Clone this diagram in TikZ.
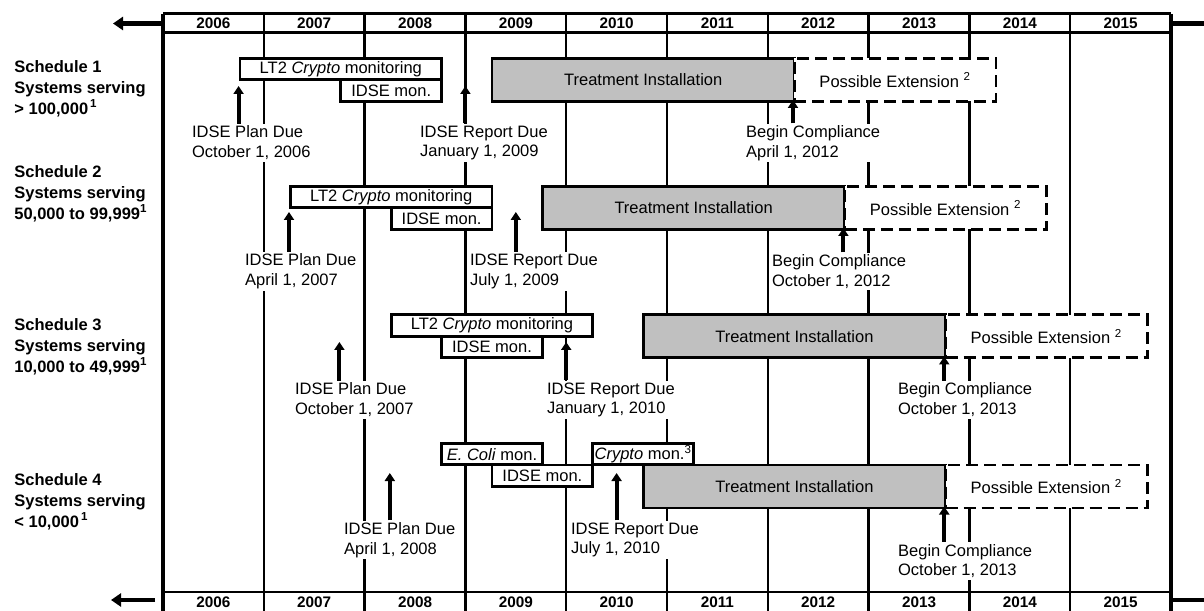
\documentclass[tikz,border=0pt]{standalone}
\usepackage{fontspec}
\setmainfont{Liberation Sans}
\usetikzlibrary{arrows.meta}
\definecolor{treatgray}{RGB}{192,192,192}
\definecolor{lineblack}{RGB}{0,0,0}

\tikzset{
  monbox/.style={draw=lineblack, fill=white, line width=1.6pt, inner sep=0.5pt, anchor=north west, minimum height=0.43cm},
  treatbox/.style={monbox, fill=treatgray, minimum height=0.86cm, minimum width=6.048cm},
  extbox/.style={monbox, dash pattern=on 0.24cm off 0.12cm, minimum height=0.86cm, minimum width=4.032cm},
  duetext/.style={fill=white, anchor=west, align=left, inner sep=1pt},
  duearrow/.style={-{Triangle[width=0.2cm,length=0.16cm]}, line width=2.3pt},
  headarrow/.style={-{Triangle[width=0.26cm,length=0.2cm]}, line width=2.3pt},
  yearlab/.style={inner sep=0pt, font=\fontsize{8.7}{10}\selectfont\bfseries},
  schedlab/.style={anchor=west, align=left, inner sep=0pt, font=\fontsize{9.4}{11.9}\selectfont\bfseries},
  gridline/.style={draw=lineblack, line width=1.4pt}
}

\begin{document}
\begin{tikzpicture}[font=\fontsize{9.4}{11.3}\selectfont]
\useasboundingbox (0,0) rectangle (24.08,-12.22);

% year grid
\draw[gridline] (5.276,-0.28) -- (5.276,-12.3);
\draw[gridline] (7.292,-0.28) -- (7.292,-12.3);
\draw[gridline] (9.308,-0.28) -- (9.308,-12.3);
\draw[gridline] (11.324,-0.28) -- (11.324,-12.3);
\draw[gridline] (13.34,-0.28) -- (13.34,-12.3);
\draw[gridline] (15.356,-0.28) -- (15.356,-12.3);
\draw[gridline] (17.372,-0.28) -- (17.372,-12.3);
\draw[gridline] (19.388,-0.28) -- (19.388,-12.3);
\draw[gridline] (21.404,-0.28) -- (21.404,-12.3);
\draw[line width=2pt] (3.26,-0.28) -- (3.26,-12.3);
\draw[line width=2pt] (23.42,-0.28) -- (23.42,-12.3);
\draw[line width=1.7pt] (3.26,-0.28) -- (23.42,-0.28);
\draw[line width=1.7pt] (3.26,-0.66) -- (23.42,-0.66);
\draw[line width=1.7pt] (3.26,-11.84) -- (23.42,-11.84);

\draw[headarrow] (3.26,-0.47) -- (2.26,-0.47);
\draw[headarrow] (23.42,-0.47) -- (24.5,-0.47);
\draw[headarrow] (3.10,-12.0) -- (2.22,-12.0);
\draw[headarrow] (23.42,-12.0) -- (24.5,-12.0);

% years, top and bottom
\node[yearlab] (top06) at (4.268,-0.47) {2006};
\node[yearlab] (top07) at (6.284,-0.47) {2007};
\node[yearlab] (top08) at (8.3,-0.47) {2008};
\node[yearlab] (top09) at (10.316,-0.47) {2009};
\node[yearlab] (top10) at (12.332,-0.47) {2010};
\node[yearlab] (top11) at (14.348,-0.47) {2011};
\node[yearlab] (top12) at (16.364,-0.47) {2012};
\node[yearlab] (top13) at (18.38,-0.47) {2013};
\node[yearlab] (top14) at (20.396,-0.47) {2014};
\node[yearlab] (top15) at (22.412,-0.47) {2015};
\node[yearlab] (bot06) at (4.268,-12.04) {2006};
\node[yearlab] (bot07) at (6.284,-12.04) {2007};
\node[yearlab] (bot08) at (8.3,-12.04) {2008};
\node[yearlab] (bot09) at (10.316,-12.04) {2009};
\node[yearlab] (bot10) at (12.332,-12.04) {2010};
\node[yearlab] (bot11) at (14.348,-12.04) {2011};
\node[yearlab] (bot12) at (16.364,-12.04) {2012};
\node[yearlab] (bot13) at (18.38,-12.04) {2013};
\node[yearlab] (bot14) at (20.396,-12.04) {2014};
\node[yearlab] (bot15) at (22.412,-12.04) {2015};

% schedule names
\node[schedlab] (sched1) at (0.28,-1.78) {Schedule 1\\Systems serving\\> 100,000\textsuperscript{\,1}};
\node[schedlab] (sched2) at (0.28,-3.88) {Schedule 2\\Systems serving\\50,000 to 99,999\textsuperscript{1}};
\node[schedlab] (sched3) at (0.28,-6.93) {Schedule 3\\Systems serving\\10,000 to 49,999\textsuperscript{1}};
\node[schedlab] (sched4) at (0.28,-10.04) {Schedule 4\\Systems serving\\< 10,000\textsuperscript{\,1}};

% schedule 1
\node[monbox, minimum width=4.032cm] (s1lt2) at (4.772,-1.14) {LT2 \textit{Crypto} monitoring};
\node[monbox, minimum width=2.016cm] (s1idse) at (6.788,-1.57) {IDSE mon.};
\node[treatbox] (s1treat) at (9.812,-1.14) {Treatment Installation};
\node[extbox] (s1ext) at (15.86,-1.14) {Possible Extension \textsuperscript{2}};
\node[duetext] (s1plan) at (3.80,-2.86) {IDSE Plan Due\\October 1, 2006};
\node[duetext] (s1report) at (8.36,-2.86) {IDSE Report Due\\January 1, 2009};
\node[duetext] (s1comp) at (14.88,-2.86) {Begin Compliance\\April 1, 2012};
\coordinate (s1plantip) at (4.772,-1.72);
\coordinate (s1reporttip) at (9.308,-1.72);
\coordinate (s1comptip) at (15.86,-2.00);
\draw[duearrow] (s1plan.north -| s1plantip) -- (s1plantip);
\draw[duearrow] (s1report.north -| s1reporttip) -- (s1reporttip);
\draw[duearrow] (s1comp.north -| s1comptip) -- (s1comptip);

% schedule 2
\node[monbox, minimum width=4.032cm] (s2lt2) at (5.78,-3.70) {LT2 \textit{Crypto} monitoring};
\node[monbox, minimum width=2.016cm] (s2idse) at (7.796,-4.13) {IDSE mon.};
\node[treatbox] (s2treat) at (10.82,-3.70) {Treatment Installation};
\node[extbox] (s2ext) at (16.868,-3.70) {Possible Extension \textsuperscript{2}};
\node[duetext] (s2plan) at (4.86,-5.43) {IDSE Plan Due\\April 1, 2007};
\node[duetext] (s2report) at (9.36,-5.43) {IDSE Report Due\\July 1, 2009};
\node[duetext] (s2comp) at (15.40,-5.43) {Begin Compliance\\October 1, 2012};
\coordinate (s2plantip) at (5.78,-4.24);
\coordinate (s2reporttip) at (10.316,-4.24);
\coordinate (s2comptip) at (16.868,-4.56);
\draw[duearrow] (s2plan.north -| s2plantip) -- (s2plantip);
\draw[duearrow] (s2report.north -| s2reporttip) -- (s2reporttip);
\draw[duearrow] (s2comp.north -| s2comptip) -- (s2comptip);

% schedule 3
\node[monbox, minimum width=4.032cm] (s3lt2) at (7.796,-6.27) {LT2 \textit{Crypto} monitoring};
\node[monbox, minimum width=2.016cm] (s3idse) at (8.804,-6.70) {IDSE mon.};
\node[treatbox] (s3treat) at (12.836,-6.27) {Treatment Installation};
\node[extbox] (s3ext) at (18.884,-6.27) {Possible Extension \textsuperscript{2}};
\node[duetext] (s3plan) at (5.86,-8.00) {IDSE Plan Due\\October 1, 2007};
\node[duetext] (s3report) at (10.90,-8.00) {IDSE Report Due\\January 1, 2010};
\node[duetext] (s3comp) at (17.92,-8.00) {Begin Compliance\\October 1, 2013};
\coordinate (s3plantip) at (6.788,-6.84);
\coordinate (s3reporttip) at (11.324,-6.84);
\coordinate (s3comptip) at (18.884,-7.13);
\draw[duearrow] (s3plan.north -| s3plantip) -- (s3plantip);
\draw[duearrow] (s3report.north -| s3reporttip) -- (s3reporttip);
\draw[duearrow] (s3comp.north -| s3comptip) -- (s3comptip);

% schedule 4
\node[monbox, minimum width=2.016cm] (s4ecoli) at (8.804,-8.84) {\textit{E. Coli} mon.};
\node[monbox, minimum width=2.016cm] (s4crypto) at (11.828,-8.84) {\textit{Crypto} mon.\textsuperscript{3}};
\node[monbox, minimum width=2.016cm] (s4idse) at (9.812,-9.27) {IDSE mon.};
\node[treatbox] (s4treat) at (12.836,-9.27) {Treatment Installation};
\node[extbox] (s4ext) at (18.884,-9.27) {Possible Extension \textsuperscript{2}};
\node[duetext] (s4plan) at (6.84,-10.80) {IDSE Plan Due\\April 1, 2008};
\node[duetext] (s4report) at (11.38,-10.80) {IDSE Report Due\\July 1, 2010};
\node[duetext] (s4comp) at (17.92,-11.22) {Begin Compliance\\October 1, 2013};
\coordinate (s4plantip) at (7.796,-9.46);
\coordinate (s4reporttip) at (12.332,-9.46);
\coordinate (s4comptip) at (18.884,-10.13);
\draw[duearrow] (s4plan.north -| s4plantip) -- (s4plantip);
\draw[duearrow] (s4report.north -| s4reporttip) -- (s4reporttip);
\draw[duearrow] (s4comp.north -| s4comptip) -- (s4comptip);
\end{tikzpicture}
\end{document}
